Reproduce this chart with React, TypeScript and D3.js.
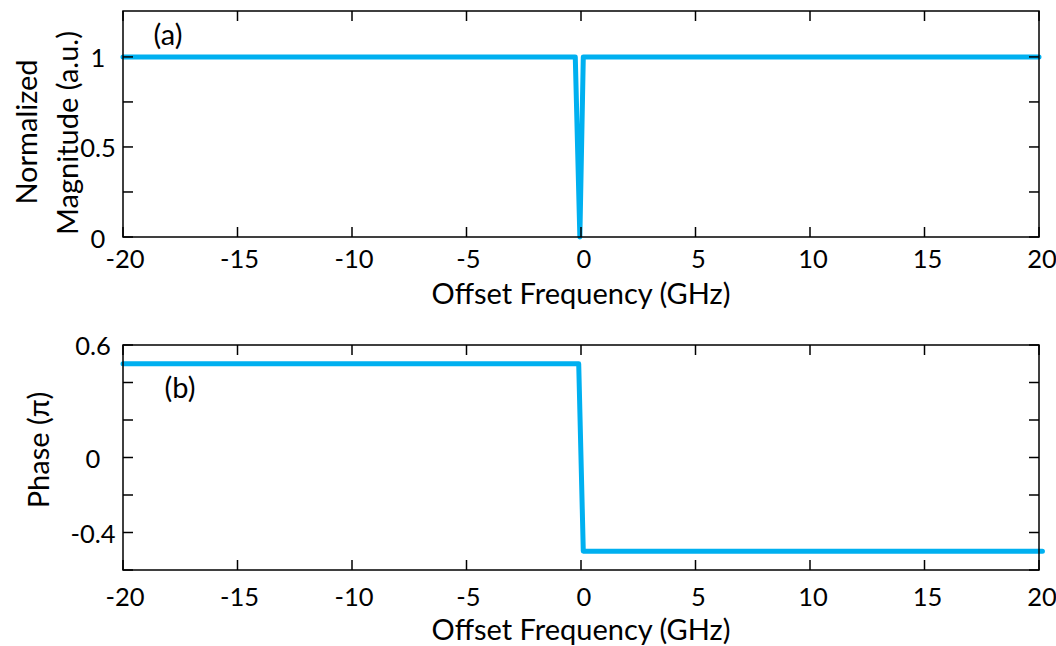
import React from "react";
import * as d3 from "d3";

const W = 1056;
const H = 646;

// Data
const xTicks = [-20, -15, -10, -5, 0, 5, 10, 15, 20];
const magTicks = [0, 0.25, 0.5, 0.75, 1];
const magLabels = ["0", "", "0.5", "", "1"];
const phaseTicks = [-0.6, -0.4, -0.2, 0, 0.2, 0.4, 0.6];
const phaseLabels = ["", "-0.4", "", "0", "", "", "0.6"];

const magX = [-20, -0.25, -0.05, 0.1, 20];
const magY = [1, 1, 0, 1, 1];

const phaseX = [-20, -0.1, 0.1, 20.15];
const phaseY = [0.5, 0.5, -0.5, -0.5];

const LINE = "#00B0F0";
const FONT = "Lato, 'Open Sans', sans-serif";
const NUM = 25.5;
const TITLE = 29;

type PanelProps = {
  top: number;
  bottom: number;
  yDomain: [number, number];
  yTicks: number[];
  yLabels: string[];
  yLabelX: number;
  xs: number[];
  ys: number[];
  tag: string;
  tagX: number;
  tagY: number;
  xLabelY: number;
  xTitleY: number;
  yTitle: React.ReactNode;
};

const L = 123;
const R = 1039;

function Panel(p: PanelProps) {
  const x = d3.scaleLinear().domain([-20, 20]).range([L, R]);
  const y = d3.scaleLinear().domain(p.yDomain).range([p.bottom, p.top]);
  const pts: [number, number][] = p.xs.map((v, i) => [v, p.ys[i]]);
  const line = d3
    .line<[number, number]>()
    .x((d) => x(d[0]))
    .y((d) => y(d[1]));
  const tl = 10;
  return (
    <g>
      <path
        d={line(pts) || ""}
        fill="none"
        stroke={LINE}
        strokeWidth={5}
        strokeLinejoin="round"
        strokeLinecap="round"
      />
      <rect
        x={L}
        y={p.top}
        width={R - L}
        height={p.bottom - p.top}
        fill="none"
        stroke="#000"
        strokeWidth={1.5}
      />
      {xTicks.map((t) => (
        <g key={"x" + t}>
          <line x1={x(t)} x2={x(t)} y1={p.bottom} y2={p.bottom - tl} stroke="#000" strokeWidth={1.5} />
          <line x1={x(t)} x2={x(t)} y1={p.top} y2={p.top + tl} stroke="#000" strokeWidth={1.5} />
          <text
            x={x(t) + (t < 0 ? 2 : 3)}
            y={p.xLabelY}
            textAnchor="middle"
            dominantBaseline="central"
            fontSize={NUM}
            fontFamily={FONT}
          >
            {t}
          </text>
        </g>
      ))}
      {p.yTicks.map((t, i) => (
        <g key={"y" + t}>
          <line x1={L} x2={L + tl} y1={y(t)} y2={y(t)} stroke="#000" strokeWidth={1.5} />
          <line x1={R} x2={R - tl} y1={y(t)} y2={y(t)} stroke="#000" strokeWidth={1.5} />
          {p.yLabels[i] ? (
            <text
              x={p.yLabelX}
              y={y(t) + (t === p.yDomain[0] ? 1 : 0)}
              textAnchor="middle"
              dominantBaseline="central"
              fontSize={NUM}
              fontFamily={FONT}
            >
              {p.yLabels[i]}
            </text>
          ) : null}
        </g>
      ))}
      <text
        x={(L + R) / 2}
        y={p.xTitleY}
        textAnchor="middle"
        dominantBaseline="central"
        fontSize={TITLE}
        fontFamily={FONT}
      >
        Offset Frequency (GHz)
      </text>
      <text
        x={p.tagX}
        y={p.tagY}
        textAnchor="middle"
        dominantBaseline="central"
        fontSize={TITLE}
        fontFamily={FONT}
      >
        {p.tag}
      </text>
      {p.yTitle}
    </g>
  );
}

export default function App() {
  return (
    <svg width={W} height={H} style={{ position: "absolute", left: 0, top: 0, background: "#fff" }}>
      <rect x={0} y={0} width={W} height={H} fill="#fff" />
      <Panel
        top={11}
        bottom={237}
        yDomain={[0, 1.255]}
        yTicks={magTicks}
        yLabels={magLabels}
        yLabelX={98}
        xs={magX}
        ys={magY}
        tag="(a)"
        tagX={168}
        tagY={33}
        xLabelY={258}
        xTitleY={292}
        yTitle={
          <g>
            <text
              transform="translate(25,132) rotate(-90)"
              textAnchor="middle"
              dominantBaseline="central"
              fontSize={TITLE}
              fontFamily={FONT}
            >
              Normalized
            </text>
            <text
              transform="translate(66,133) rotate(-90)"
              textAnchor="middle"
              dominantBaseline="central"
              fontSize={TITLE}
              fontFamily={FONT}
            >
              Magnitude (a.u.)
            </text>
          </g>
        }
      />
      <Panel
        top={345}
        bottom={570}
        yDomain={[-0.6, 0.6]}
        yTicks={phaseTicks}
        yLabels={phaseLabels}
        yLabelX={93}
        xs={phaseX}
        ys={phaseY}
        tag="(b)"
        tagX={180}
        tagY={386}
        xLabelY={596}
        xTitleY={628}
        yTitle={
          <text
            transform="translate(37,450) rotate(-90)"
            textAnchor="middle"
            dominantBaseline="central"
            fontSize={TITLE}
            fontFamily={FONT}
          >
            Phase (π)
          </text>
        }
      />
    </svg>
  );
}
